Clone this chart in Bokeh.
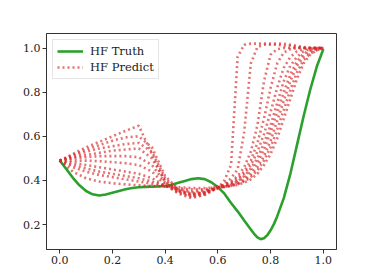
from bokeh.plotting import figure
from bokeh.models import Range1d, FixedTicker, PrintfTickFormatter
from bokeh.embed import file_html
from bokeh.resources import INLINE

# ---- data ----
x_truth = [0.0, 0.025, 0.05, 0.075, 0.1, 0.125, 0.15, 0.175, 0.2, 0.225, 0.25, 0.275,
           0.3, 0.325, 0.35, 0.375, 0.4, 0.425, 0.45, 0.475, 0.5, 0.525, 0.55, 0.575,
           0.6, 0.625, 0.65, 0.675, 0.7, 0.725, 0.7375, 0.75, 0.7625, 0.775, 0.7875,
           0.8, 0.8125, 0.825, 0.85, 0.875, 0.9, 0.925, 0.95, 0.975, 1.0]
y_truth = [0.491, 0.452, 0.412, 0.378, 0.352, 0.337, 0.332, 0.336, 0.344, 0.352, 0.36, 0.366,
           0.369, 0.371, 0.372, 0.373, 0.375, 0.38, 0.389, 0.398, 0.406, 0.41, 0.406, 0.392,
           0.37, 0.34, 0.298, 0.26, 0.218, 0.178, 0.158, 0.142, 0.134, 0.138, 0.152,
           0.174, 0.202, 0.237, 0.32, 0.43, 0.56, 0.69, 0.81, 0.915, 0.995]

x_pred = [0.0, 0.05, 0.1, 0.15, 0.2, 0.25, 0.3, 0.35, 0.4, 0.45, 0.5, 0.55,
          0.6, 0.625, 0.65, 0.675, 0.7, 0.725, 0.75, 0.775, 0.8, 0.825, 0.85, 0.875,
          0.9, 0.925, 0.95, 0.975, 1.0]
pred_1 = [0.49, 0.52, 0.55, 0.575, 0.60, 0.625, 0.648, 0.52, 0.39, 0.355, 0.34, 0.345,
          0.368, 0.38, 0.395, 0.42, 0.46, 0.53, 0.65, 0.85, 0.97, 0.995, 1.0, 1.0, 1.0, 1.0, 1.0, 1.0, 1.0]
pred_2 = [0.49, 0.515, 0.54, 0.56, 0.58, 0.595, 0.60, 0.55, 0.42, 0.36, 0.345, 0.35,
          0.365, 0.40, 0.47, 0.96, 1.015, 1.02, 1.02, 1.02, 1.02, 1.02, 1.02, 1.015, 1.01, 1.005, 1.0, 1.0, 1.0]
pred_3 = [0.49, 0.51, 0.53, 0.545, 0.555, 0.565, 0.57, 0.53, 0.41, 0.355, 0.335, 0.345,
          0.368, 0.375, 0.385, 0.40, 0.43, 0.47, 0.53, 0.61, 0.71, 0.82, 0.91, 0.96, 0.985, 0.995, 1.0, 1.0, 1.0]
pred_4 = [0.49, 0.505, 0.515, 0.525, 0.535, 0.54, 0.545, 0.50, 0.40, 0.35, 0.33, 0.34,
          0.365, 0.385, 0.41, 0.45, 0.62, 0.93, 1.005, 1.015, 1.015, 1.015, 1.01, 1.01, 1.005, 1.0, 1.0, 1.0, 1.0]
pred_5 = [0.49, 0.50, 0.505, 0.51, 0.51, 0.51, 0.505, 0.47, 0.39, 0.345, 0.325, 0.335,
          0.368, 0.37, 0.378, 0.39, 0.41, 0.44, 0.48, 0.54, 0.62, 0.71, 0.80, 0.88, 0.94, 0.975, 0.99, 0.998, 1.0]
pred_6 = [0.49, 0.49, 0.49, 0.487, 0.483, 0.478, 0.47, 0.44, 0.38, 0.34, 0.32, 0.335,
          0.37, 0.38, 0.39, 0.41, 0.44, 0.49, 0.57, 0.68, 0.82, 0.93, 0.98, 0.995, 1.0, 1.0, 1.0, 1.0, 1.0]
pred_7 = [0.49, 0.48, 0.47, 0.46, 0.45, 0.44, 0.43, 0.41, 0.375, 0.35, 0.335, 0.345,
          0.37, 0.37, 0.375, 0.383, 0.395, 0.415, 0.445, 0.49, 0.55, 0.63, 0.72, 0.81, 0.89, 0.945, 0.975, 0.99, 1.0]
pred_8 = [0.49, 0.47, 0.455, 0.44, 0.43, 0.42, 0.41, 0.395, 0.375, 0.36, 0.35, 0.355,
          0.365, 0.372, 0.382, 0.395, 0.42, 0.455, 0.50, 0.57, 0.65, 0.75, 0.85, 0.92, 0.96, 0.985, 0.995, 1.0, 1.0]
pred_9 = [0.49, 0.46, 0.44, 0.425, 0.415, 0.405, 0.395, 0.385, 0.375, 0.365, 0.36, 0.36,
          0.372, 0.372, 0.375, 0.38, 0.39, 0.405, 0.43, 0.47, 0.52, 0.59, 0.68, 0.77, 0.86, 0.93, 0.97, 0.99, 1.0]
pred_10 = [0.49, 0.44, 0.41, 0.395, 0.387, 0.382, 0.378, 0.375, 0.372, 0.37, 0.365, 0.365,
           0.37, 0.372, 0.376, 0.385, 0.40, 0.425, 0.46, 0.51, 0.58, 0.67, 0.76, 0.85, 0.92, 0.96, 0.985, 0.995, 1.0]
preds = [pred_1, pred_2, pred_3, pred_4, pred_5, pred_6, pred_7, pred_8, pred_9, pred_10]

x_ticks = [0.0, 0.2, 0.4, 0.6, 0.8, 1.0]
y_ticks = [0.2, 0.4, 0.6, 0.8, 1.0]

FONT = "DejaVu Serif"

p = figure(width=358, height=268, output_backend="svg", toolbar_location=None,
           x_range=Range1d(-0.05, 1.05), y_range=Range1d(0.087, 1.066),
           min_border_left=46, min_border_top=33, min_border_right=22, min_border_bottom=19)

p.line(x_truth, y_truth, line_color="#2ca02c", line_width=2.6, legend_label="HF Truth")
p.multi_line([x_pred] * len(preds), preds, line_color="#d62728", line_alpha=0.65,
             line_width=2.6, line_dash="2 3", legend_label="HF Predict")

p.grid.visible = False
p.outline_line_color = "#333333"
p.outline_line_alpha = 1.0
p.outline_line_width = 1

p.xaxis.ticker = FixedTicker(ticks=x_ticks)
p.yaxis.ticker = FixedTicker(ticks=y_ticks)
for ax in (p.xaxis, p.yaxis):
    ax.formatter = PrintfTickFormatter(format="%.1f")
    ax.major_label_text_font = FONT
    ax.major_label_text_font_size = "11px"
    ax.major_label_text_color = "#222222"
    ax.axis_line_color = "#333333"
    ax.major_tick_line_color = "#333333"
    ax.major_tick_in = 0
    ax.major_tick_out = 4
    ax.minor_tick_in = 0
    ax.minor_tick_out = 0
    ax.major_label_standoff = 2

lg = p.legend[0]
lg.location = "top_left"
lg.margin = 6
lg.padding = 4
lg.spacing = 2
lg.glyph_width = 26
lg.glyph_height = 14
lg.label_height = 14
lg.label_standoff = 7
lg.label_text_font = FONT
lg.label_text_font_size = "11.5px"
lg.label_text_color = "#222222"
lg.border_line_color = "#cccccc"
lg.background_fill_alpha = 0.8

open("out.html", "w").write(file_html(p, INLINE))
